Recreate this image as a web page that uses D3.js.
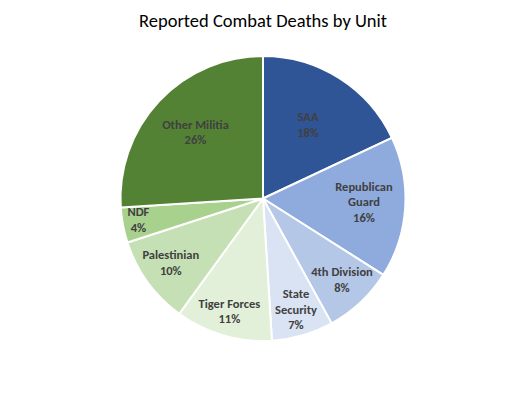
<!DOCTYPE html>
<html>
<head>
<meta charset="utf-8">
<script src="https://cdn.jsdelivr.net/npm/d3@7"></script>
<style>
  html, body { margin: 0; padding: 0; background: #fff; }
  svg { display: block; }
</style>
</head>
<body>
<div id="chart"></div>
<script>
// chart values
var units = ["SAA", "Republican Guard", "4th Division", "State Security",
  "Tiger Forces", "Palestinian", "NDF", "Other Militia"];
var shares = [18, 16, 8, 7, 11, 10, 4, 26];

// how each label is broken into lines
var labelLines = [["SAA"], ["Republican", "Guard"], ["4th Division"], ["State", "Security"],
  ["Tiger Forces"], ["Palestinian"], ["NDF"], ["Other Militia"]];

var colors = ["#2F5597", "#8FAADC", "#B4C7E7", "#DAE3F3",
  "#E2F0D9", "#C5E0B4", "#A9D18E", "#548235"];

// label distance from centre as fraction of radius (Excel "best fit" look)
var labelDist = [0.59, 0.71, 0.81, 0.83, 0.845, 0.80, 0.89, 0.65];

var width = 511, height = 394;
var cx = 263, cy = 198.5, radius = 142.5;

var svg = d3.select("#chart")
  .append("svg")
  .attr("width", width)
  .attr("height", height);

// title
svg.append("text")
  .attr("x", cx)
  .attr("y", 27)
  .attr("text-anchor", "middle")
  .style("font-family", "Carlito, Calibri, Lato, sans-serif")
  .style("font-size", "18.5px")
  .style("fill", "#000")
  .text("Reported Combat Deaths by Unit");

var pie = d3.pie().sort(null).value(function (d) { return d; });
var arcs = pie(shares);

var arc = d3.arc().innerRadius(0).outerRadius(radius);

var g = svg.append("g")
  .attr("transform", "translate(" + cx + "," + cy + ")");

g.selectAll("path")
  .data(arcs)
  .enter()
  .append("path")
  .attr("d", arc)
  .attr("fill", function (d, i) { return colors[i]; })
  .attr("stroke", "#fff")
  .attr("stroke-width", 2);

var total = d3.sum(shares);

// labels
g.selectAll("text.lbl")
  .data(arcs)
  .enter()
  .append("text")
  .attr("class", "lbl")
  .attr("text-anchor", "middle")
  .style("font-family", "Carlito, Calibri, Lato, sans-serif")
  .style("font-size", "12.5px")
  .style("font-weight", "bold")
  .style("fill", "#404040")
  .each(function (d, i) {
    var a = (d.startAngle + d.endAngle) / 2;
    var r = radius * labelDist[i];
    var x = Math.sin(a) * r, y = -Math.cos(a) * r;
    var lines = labelLines[i].concat([Math.round(d.value / total * 100) + "%"]);
    var lh = 15.5;
    var y0 = y - (lines.length - 1) * lh / 2 + 1.5;
    var t = d3.select(this);
    lines.forEach(function (s, k) {
      t.append("tspan")
        .attr("x", x)
        .attr("y", y0 + k * lh)
        .text(s);
    });
  });
</script>
</body>
</html>
